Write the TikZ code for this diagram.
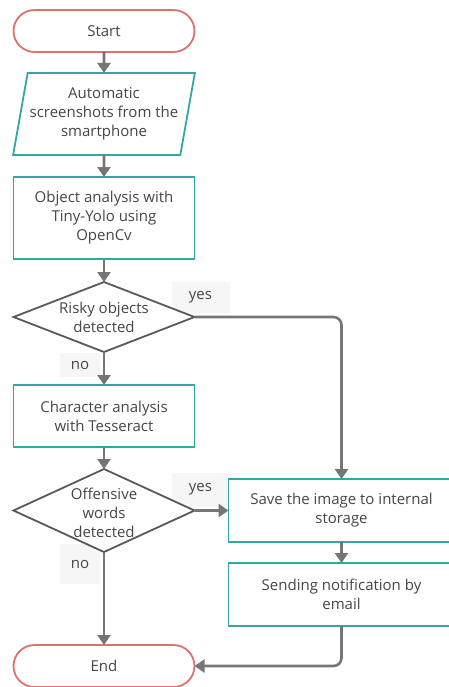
\documentclass[tikz,border=0pt]{standalone}
\usepackage{fontspec}
\setmainfont{Open Sans}
\usepackage{xcolor}
\usepackage{tikz}
\usetikzlibrary{arrows.meta,calc,positioning,shapes.geometric,backgrounds}
\definecolor{termred}{RGB}{224,112,112}
\definecolor{boxteal}{RGB}{52,166,166}
\definecolor{flowgrey}{RGB}{118,118,118}
\definecolor{textgrey}{RGB}{70,70,70}
\definecolor{tagbg}{RGB}{246,246,246}
\tikzset{
  txt/.style={font=\fontsize{15}{19}\selectfont,text=textgrey,align=center},
  terminal/.style={txt,draw=termred,line width=1.8pt,fill=white,outer sep=0pt,
    rounded corners=21pt,minimum width=181pt,minimum height=42pt},
  iobox/.style={txt,trapezium,trapezium left angle=75.6,
    trapezium right angle=104.4,trapezium stretches=true,
    draw=boxteal,line width=1.8pt,fill=white,outer sep=0pt,
    minimum width=181pt,minimum height=82pt,inner sep=2pt},
  process/.style={txt,draw=boxteal,line width=1.8pt,fill=white,outer sep=0pt,
    minimum width=181pt,inner sep=4pt},
  decision/.style={diamond,draw=textgrey!90,line width=1.8pt,fill=white,
    outer sep=0pt,minimum width=181pt,inner sep=0pt},
  answer/.style={txt,fill=tagbg,inner sep=0pt},
  flow/.style={-{Triangle[width=13pt,length=10pt]},line width=2.6pt,
    draw=flowgrey}
}
\begin{document}
\begin{tikzpicture}
  \useasboundingbox (-104pt,31pt) rectangle (344pt,-656pt);
  \node[terminal] (start) {Start};
  \node[iobox,below=21pt of start] (shots)
    {Automatic\\screenshots from the\\smartphone};
  \node[process,below=22pt of shots,minimum height=82pt] (objects)
    {Object analysis with\\Tiny-Yolo using\\OpenCv};
  \node[decision,below=23pt of objects,minimum height=70pt] (risky) {};
  \node[txt] (risky text) at (risky) {Risky objects\\detected};
  \node[process,below=33pt of risky,minimum height=62pt] (chars)
    {Character analysis\\with Tesseract};
  \node[decision,below=22pt of chars,minimum height=83pt] (offensive) {};
  \node[txt] (offensive text) at ([yshift=-2pt]offensive)
    {Offensive\\words\\detected};
  \node[terminal,below=93pt of offensive] (finish) {End};
  \node[process,right=34pt of offensive,minimum width=226pt,
    minimum height=63pt] (save) {Save the image to internal\\storage};
  \node[process,below=21pt of save,minimum width=226pt,
    minimum height=63pt] (notify) {Sending notification by\\email};
  % answer tags
  \begin{scope}[on background layer]
    \node[answer,minimum width=58pt,minimum height=31pt] (yes risky)
      at ([xshift=6pt,yshift=20pt]risky.east) {yes};
    \node[answer,minimum width=40pt,minimum height=24pt] (no risky)
      at ([xshift=-24pt,yshift=-13pt]risky.south) {no};
    \node[answer,minimum width=58pt,minimum height=34pt] (yes offensive)
      at ([xshift=6pt,yshift=21pt]offensive.east) {yes};
    \node[answer,minimum width=40pt,minimum height=40pt] (no offensive)
      at ([xshift=-24pt,yshift=-12pt]offensive.south) {no};
  \end{scope}
  % connectors
  \draw[flow] (start) -- (shots);
  \draw[flow] (shots) -- (objects);
  \draw[flow] (objects) -- (risky);
  \draw[flow] (risky) -- (chars);
  \draw[flow] (chars) -- (offensive);
  \draw[flow] (offensive) -- (finish);
  \draw[flow,rounded corners=8pt] (risky.east) -| (save);
  \draw[flow] (offensive.east) -- (save);
  \draw[flow] (save) -- (notify);
  \draw[flow,rounded corners=8pt] (notify.south) |- (finish.east);
\end{tikzpicture}
\end{document}
